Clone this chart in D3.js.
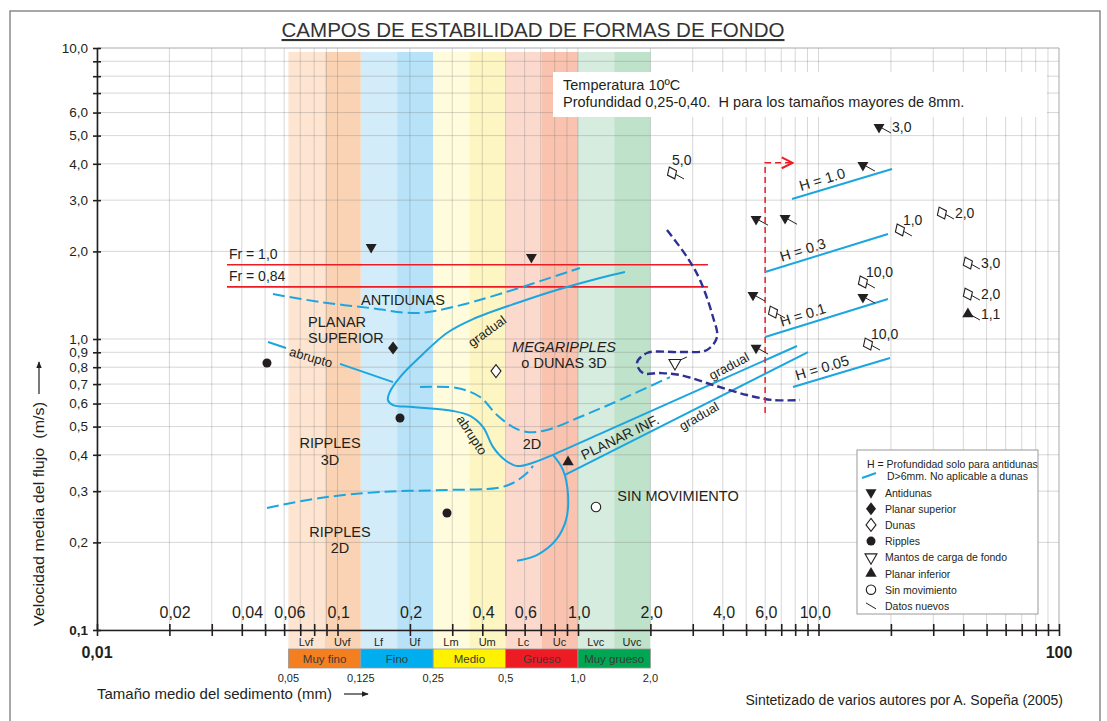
<!DOCTYPE html>
<html>
<head>
<meta charset="utf-8">
<script src="https://cdnjs.cloudflare.com/ajax/libs/d3/7.8.5/d3.min.js"></script>
<style>
  body { margin: 0; background: #fff; }
  text { font-family: Arial, "Liberation Sans", sans-serif; fill: #231f20; white-space: pre; }
</style>
</head>
<body>
<svg id="chart" width="1107" height="721"></svg>
<script>
// ---- data ----
var xTickValues = [0.02, 0.04, 0.06, 0.1, 0.2, 0.4, 0.6, 1, 2, 4, 6, 10]
var xTickLabels = ['0,02', '0,04', '0,06', '0,1', '0,2', '0,4', '0,6', '1,0', '2,0', '4,0', '6,0', '10,0']
var yTickValues = [0.1, 0.2, 0.3, 0.4, 0.5, 0.6, 0.7, 0.8, 0.9, 1, 2, 3, 4, 5, 6, 10]
var yTickLabels = ['0,1', '0,2', '0,3', '0,4', '0,5', '0,6', '0,7', '0,8', '0,9', '1,0', '2,0', '3,0', '4,0', '5,0', '6,0', '10,0']

var sizeClasses = ['Muy fino', 'Fino', 'Medio', 'Grueso', 'Muy grueso']
var classBounds = [0.0625, 0.125, 0.25, 0.5, 1, 2]
var classBoundLabels = ['0,05', '0,125', '0,25', '0,5', '1,0', '2,0']
var classColors = ['#f47f20', '#00aeef', '#fff200', '#ed1c24', '#00a651']
var subClasses = ['Lvf', 'Uvf', 'Lf', 'Uf', 'Lm', 'Um', 'Lc', 'Uc', 'Lvc', 'Uvc']
var subBounds = [0.0625, 0.0884, 0.125, 0.177, 0.25, 0.354, 0.5, 0.707, 1, 1.414, 2]
var subColors = ['#fde5d2', '#fad3b5', '#d3ecf9', '#b7e2f7', '#fffbdd', '#fdf5c2', '#fcd9cd', '#f9c3b0', '#d6ecdf', '#bfe2cb']

var froude = [{ label: 'Fr = 1,0', v: 1.8 }, { label: 'Fr = 0,84', v: 1.51 }]
var froudeRange = [0.0347, 3.47]

// solid blue boundaries [size mm, velocity m/s]
var gradualAbrupto = [[1.568, 1.699], [1.234, 1.621], [0.842, 1.485], [0.574, 1.34], [0.366, 1.171], [0.285, 1.049], [0.220, 0.867], [0.182, 0.740], [0.165, 0.658], [0.162, 0.617], [0.170, 0.593], [0.206, 0.584], [0.302, 0.566], [0.356, 0.544], [0.403, 0.498], [0.443, 0.426], [0.497, 0.384], [0.558, 0.366], [0.644, 0.375], [0.787, 0.400], [1.234, 0.472], [8.14, 0.946]]
var planarInfLower = [[0.883, 0.341], [9.04, 0.902]]
var sinMovLimit = [[0.787, 0.400], [0.866, 0.355], [0.909, 0.291], [0.892, 0.239], [0.810, 0.204], [0.675, 0.181], [0.558, 0.173]]
var abruptoLeftA = [[0.0514, 0.977], [0.0611, 0.931]]
var abruptoLeftB = [[0.1024, 0.821], [0.1702, 0.711]]

// dashed blue boundaries
var antidunasLimit = [[0.0539, 1.427], [0.0846, 1.34], [0.1365, 1.278], [0.2141, 1.228], [0.302, 1.288], [0.4876, 1.439], [1.019, 1.754]]
var megaripplesLimit = [[0.2203, 0.684], [0.314, 0.679], [0.3914, 0.632], [0.4604, 0.548], [0.5367, 0.498], [0.6136, 0.479], [0.743, 0.487], [1.019, 0.5395], [1.398, 0.6026], [2.413, 0.740]]
var ripplesLimit = [[0.0509, 0.2626], [0.0846, 0.2842], [0.1502, 0.298], [0.2853, 0.3028], [0.4604, 0.3076], [0.5367, 0.32], [0.6136, 0.3464], [0.65, 0.3662]]

// purple dashed boundary (coarse sediments)
var coarseLimit = [[2.344, 2.369], [2.84, 1.913], [3.216, 1.595], [3.641, 1.19], [3.784, 1.016], [3.439, 0.917], [2.655, 0.902], [1.936, 0.895], [1.759, 0.827], [1.863, 0.764], [2.193, 0.764], [2.655, 0.752], [3.641, 0.695], [5.043, 0.642], [6.47, 0.617], [8.38, 0.617]]

// depth lines for antidunes
var hLines = [
  { label: 'H = 1.0', a: [7.76, 3.028], b: [20.21, 3.838] },
  { label: 'H = 0.3', a: [6.0, 1.699], b: [19.45, 2.295] },
  { label: 'H = 0.1', a: [6.0, 1.016], b: [19.45, 1.372] },
  { label: 'H = 0.05', a: [7.83, 0.684], b: [19.83, 0.860] }
]
var redDashed = [[6.0, 0.557], [6.0, 4.03], [7.8, 4.03]]

// observations: type, size, velocity, new data, label, label place
var points = [
  { t: 'antidunas', d: 0.138, v: 2.07, nuevo: false, label: '' },
  { t: 'antidunas', d: 0.64, v: 1.91, nuevo: false, label: '' },
  { t: 'antidunas', d: 5.5, v: 2.58, nuevo: true, label: '' },
  { t: 'antidunas', d: 7.26, v: 2.6, nuevo: true, label: '' },
  { t: 'antidunas', d: 5.34, v: 1.416, nuevo: true, label: '' },
  { t: 'antidunas', d: 5.5, v: 0.931, nuevo: true, label: '' },
  { t: 'antidunas', d: 15.3, v: 1.393, nuevo: true, label: '' },
  { t: 'antidunas', d: 15.3, v: 3.96, nuevo: true, label: '' },
  { t: 'antidunas', d: 17.85, v: 5.35, nuevo: true, label: '3,0', pos: 'e' },
  { t: 'planarSup', d: 0.1702, v: 0.931, nuevo: false, label: '' },
  { t: 'dunas', d: 0.456, v: 0.776, nuevo: false, label: '' },
  { t: 'dunas', d: 2.46, v: 3.72, nuevo: true, label: '5,0', pos: 'n' },
  { t: 'dunas', d: 6.47, v: 1.238, nuevo: true, label: '' },
  { t: 'dunas', d: 21.8, v: 2.37, nuevo: true, label: '1,0', pos: 'ne' },
  { t: 'dunas', d: 32.6, v: 2.71, nuevo: true, label: '2,0', pos: 'e' },
  { t: 'dunas', d: 15.3, v: 1.57, nuevo: true, label: '10,0', pos: 'ne' },
  { t: 'dunas', d: 16.06, v: 0.961, nuevo: true, label: '10,0', pos: 'ne' },
  { t: 'dunas', d: 41.8, v: 1.824, nuevo: true, label: '3,0', pos: 'e' },
  { t: 'dunas', d: 41.8, v: 1.427, nuevo: true, label: '2,0', pos: 'e' },
  { t: 'ripples', d: 0.0509, v: 0.827, nuevo: false, label: '' },
  { t: 'ripples', d: 0.1819, v: 0.535, nuevo: false, label: '' },
  { t: 'ripples', d: 0.2853, v: 0.2524, nuevo: false, label: '' },
  { t: 'mantos', d: 2.53, v: 0.827, nuevo: true, label: '', up: true },
  { t: 'planarInf', d: 0.909, v: 0.378, nuevo: false, label: '' },
  { t: 'planarInf', d: 41.8, v: 1.219, nuevo: true, label: '1,1', pos: 'e' },
  { t: 'sinMov', d: 1.188, v: 0.2647, nuevo: false, label: '' }
]

var regionLabels = [
  { text: 'ANTIDUNAS', d: 0.1872, v: 1.361 },
  { text: 'PLANAR', d: 0.0754, v: 1.144, anchor: 'start' },
  { text: 'SUPERIOR', d: 0.0754, v: 1.008, anchor: 'start' },
  { text: 'MEGARIPPLES', d: 0.875, v: 0.939, italic: true },
  { text: 'o DUNAS 3D', d: 0.875, v: 0.827 },
  { text: 'RIPPLES', d: 0.0931, v: 0.439 },
  { text: '3D', d: 0.0931, v: 0.384 },
  { text: 'RIPPLES', d: 0.1024, v: 0.2172 },
  { text: '2D', d: 0.1024, v: 0.1913 },
  { text: '2D', d: 0.6438, v: 0.4357 },
  { text: 'SIN MOVIMIENTO', d: 2.605, v: 0.2887 }
]
var curveLabels = [
  { text: 'gradual', d: 0.4184, v: 1.065, angle: -36 },
  { text: 'abrupto', d: 0.0776, v: 0.867, angle: 16 },
  { text: 'abrupto', d: 0.3625, v: 0.468, angle: 57 },
  { text: 'gradual', d: 4.246, v: 0.808, angle: -28 },
  { text: 'gradual', d: 3.185, v: 0.5435, angle: -30 },
  { text: 'PLANAR INF.', d: 1.495, v: 0.4604, angle: -26, size: 14 }
]

var legendKeys = ['antidunas', 'planarSup', 'dunas', 'ripples', 'mantos', 'planarInf', 'sinMov', 'nuevo']
var legendLabels = ['Antidunas', 'Planar superior', 'Dunas', 'Ripples', 'Mantos de carga de fondo', 'Planar inferior', 'Sin movimiento', 'Datos nuevos']

// ---- layout ----
var blue = '#1ba6e0', purple = '#2e3192', red = '#ed1c24', ink = '#231f20'

var svg = d3.select('#chart')
var xScale = d3.scaleLog().domain([0.01, 100]).range([97, 1059])
var yScale = d3.scaleLog().domain([0.1, 10]).range([630, 48])

var line = d3.line().x(d => xScale(d[0])).y(d => yScale(d[1]))
var smooth = d3.line().x(d => xScale(d[0])).y(d => yScale(d[1])).curve(d3.curveCatmullRom.alpha(0.5))

// outer frame
svg.append('rect').attr('x', 10).attr('y', 11).attr('width', 1090).attr('height', 730)
  .attr('fill', 'none').attr('stroke', '#8a8a8a').attr('stroke-width', 1.5)

// title
svg.append('text').attr('x', 533).attr('y', 37).attr('text-anchor', 'middle')
  .attr('font-size', 21).attr('textLength', 503).attr('lengthAdjust', 'spacingAndGlyphs')
  .style('fill', '#333').style('text-decoration', 'underline')
  .text('CAMPOS DE ESTABILIDAD DE FORMAS DE FONDO')

// sediment bands
svg.append('g').selectAll('rect').data(subClasses).join('rect')
  .attr('x', (d, i) => xScale(subBounds[i]))
  .attr('width', (d, i) => xScale(subBounds[i + 1]) - xScale(subBounds[i]))
  .attr('y', 52).attr('height', 649 - 52)
  .attr('fill', (d, i) => subColors[i])

// grid
var grid = svg.append('g')
grid.selectAll('.vg').data(xScale.ticks()).join('line')
  .attr('x1', d => xScale(d)).attr('x2', d => xScale(d))
  .attr('y1', 48).attr('y2', 630)
  .attr('stroke', d => d === 100 ? '#a9a9a9' : 'rgba(110,110,110,0.28)').attr('stroke-width', 1)
grid.selectAll('.hg').data(yScale.ticks()).join('line')
  .attr('x1', 97).attr('x2', 1059)
  .attr('y1', d => yScale(d)).attr('y2', d => yScale(d))
  .attr('stroke', d => d === 10 ? '#a9a9a9' : 'rgba(110,110,110,0.28)').attr('stroke-width', 1)

// info box
svg.append('rect').attr('x', 553).attr('y', 72).attr('width', 494).attr('height', 45).attr('fill', '#fff')
svg.append('text').attr('x', 563).attr('y', 90).attr('font-size', 14.5).text('Temperatura 10ºC')
svg.append('text').attr('x', 563).attr('y', 107).attr('font-size', 14.5)
  .text('Profundidad 0,25-0,40.  H para los tamaños mayores de 8mm.')

// Froude lines
var fr = svg.append('g')
froude.forEach(f => {
  fr.append('path').attr('d', line([[froudeRange[0], f.v], [froudeRange[1], f.v]]))
    .attr('stroke', red).attr('stroke-width', 1.6).attr('fill', 'none')
  fr.append('text').attr('x', xScale(froudeRange[0]) + 2).attr('y', yScale(f.v) - 6)
    .attr('font-size', 14).text(f.label)
})

// boundaries
var bounds = svg.append('g').attr('fill', 'none')
;[gradualAbrupto, sinMovLimit].forEach(c => {
  bounds.append('path').attr('d', smooth(c)).attr('stroke', blue).attr('stroke-width', 2)
})
;[planarInfLower, abruptoLeftA, abruptoLeftB].forEach(c => {
  bounds.append('path').attr('d', line(c)).attr('stroke', blue).attr('stroke-width', 2)
})
;[antidunasLimit, megaripplesLimit, ripplesLimit].forEach(c => {
  bounds.append('path').attr('d', smooth(c)).attr('stroke', blue).attr('stroke-width', 2)
    .attr('stroke-dasharray', '12,5')
})
bounds.append('path').attr('d', smooth(coarseLimit)).attr('stroke', purple).attr('stroke-width', 2.4)
  .attr('stroke-dasharray', '8,4')

// red dashed limit with arrow
svg.append('defs').append('marker').attr('id', 'arr').attr('viewBox', '0 0 10 10')
  .attr('refX', 9).attr('refY', 5).attr('markerWidth', 9).attr('markerHeight', 9).attr('orient', 'auto')
  .append('path').attr('d', 'M1,1 L9,5 L1,9').attr('fill', 'none').attr('stroke', red).attr('stroke-width', 1.5)
bounds.append('path').attr('d', line(redDashed)).attr('stroke', red).attr('stroke-width', 1.5)
  .attr('stroke-dasharray', '6,4').attr('marker-end', 'url(#arr)')

// H lines
hLines.forEach(h => {
  var x1 = xScale(h.a[0]), y1 = yScale(h.a[1]), x2 = xScale(h.b[0]), y2 = yScale(h.b[1])
  bounds.append('path').attr('d', line([h.a, h.b])).attr('stroke', blue).attr('stroke-width', 2)
  var ang = Math.atan2(y2 - y1, x2 - x1) * 180 / Math.PI
  var t = 0.33, lx = x1 + (x2 - x1) * t, ly = y1 + (y2 - y1) * t
  svg.append('text').attr('transform', 'translate(' + [lx, ly] + ') rotate(' + ang + ')')
    .attr('y', -5).attr('text-anchor', 'middle').attr('font-size', 14.5).text(h.label)
})

// labels
regionLabels.forEach(r => {
  svg.append('text').attr('x', xScale(r.d)).attr('y', yScale(r.v)).attr('dy', '0.36em')
    .attr('text-anchor', r.anchor || 'middle').attr('font-size', 14.5)
    .style('font-style', r.italic ? 'italic' : 'normal').text(r.text)
})
curveLabels.forEach(c => {
  svg.append('text').attr('transform', 'translate(' + [xScale(c.d), yScale(c.v)] + ') rotate(' + c.angle + ')')
    .attr('dy', '0.36em').attr('text-anchor', 'middle').attr('font-size', c.size || 13).text(c.text)
})

// markers
var diamond = 'M0,-6.5L5,0L0,6.5L-5,0Z'
function drawMarker(g, type, px, py, tilt) {
  var s = d3.symbol()
  var at = 'translate(' + [px, py] + ')'
  if (type === 'antidunas') g.append('path').attr('d', s.type(d3.symbolTriangle).size(52)())
    .attr('transform', at + ' rotate(180)').attr('fill', ink)
  if (type === 'mantos') g.append('path').attr('d', s.type(d3.symbolTriangle).size(62)())
    .attr('transform', at + ' rotate(180)').attr('fill', '#fff').attr('stroke', ink).attr('stroke-width', 1.1)
  if (type === 'planarInf') g.append('path').attr('d', s.type(d3.symbolTriangle).size(56)())
    .attr('transform', at).attr('fill', ink)
  if (type === 'planarSup') g.append('path').attr('d', diamond)
    .attr('transform', at).attr('fill', ink)
  if (type === 'dunas') g.append('path').attr('d', diamond)
    .attr('transform', at + (tilt ? ' rotate(-25)' : '')).attr('fill', '#fff').attr('stroke', ink).attr('stroke-width', 1.1)
  if (type === 'ripples') g.append('path').attr('d', s.type(d3.symbolCircle).size(64)())
    .attr('transform', at).attr('fill', ink)
  if (type === 'sinMov') g.append('path').attr('d', s.type(d3.symbolCircle).size(70)())
    .attr('transform', at).attr('fill', '#fff').attr('stroke', ink).attr('stroke-width', 1.1)
  if (type === 'nuevo') g.append('line').attr('x1', px - 5).attr('y1', py - 3).attr('x2', px + 5).attr('y2', py + 3)
    .attr('stroke', ink).attr('stroke-width', 1)
}

var marks = svg.append('g')
points.forEach(p => {
  var px = xScale(p.d), py = yScale(p.v)
  if (p.nuevo) {
    var ty = p.up ? -6 : 6
    marks.append('line').attr('x1', px + 3).attr('y1', py + (p.up ? -2 : 1)).attr('x2', px + 12).attr('y2', py + ty)
      .attr('stroke', ink).attr('stroke-width', 1)
  }
  drawMarker(marks, p.t, px, py, p.nuevo)
  if (p.label) {
    var lx = px, ly = py
    if (p.pos === 'e') { lx = px + 13; ly = py + 5 }
    if (p.pos === 'ne') { lx = px + 3; ly = py - 5 }
    if (p.pos === 'n') { lx = px; ly = py - 8 }
    marks.append('text').attr('x', lx).attr('y', ly).attr('font-size', 14).text(p.label)
  }
})

// axes
var yAxis = d3.axisLeft(yScale).tickValues(yScale.ticks()).tickSize(4).tickSizeOuter(0).tickFormat('')
var gy = svg.append('g').attr('transform', 'translate(97,0)').call(yAxis)
gy.selectAll('.tick line').attr('x1', 4)
var xAxis = d3.axisBottom(xScale).tickValues(xScale.ticks()).tickSize(6).tickSizeOuter(0).tickFormat('')
var gx = svg.append('g').attr('transform', 'translate(0,630)').call(xAxis)
gx.selectAll('.tick line').attr('y1', -6)
;[gx, gy].forEach(g => {
  g.select('.domain').attr('stroke', ink).attr('stroke-width', 1.6)
  g.selectAll('.tick line').attr('stroke', ink).attr('stroke-width', 1.6)
})

yTickValues.forEach((v, i) => {
  svg.append('text').attr('x', 88).attr('y', yScale(v)).attr('dy', '0.35em').attr('text-anchor', 'end')
    .attr('font-size', 13.5).attr('font-weight', v === 0.1 ? 'bold' : 'normal').text(yTickLabels[i])
})
xTickValues.forEach((v, i) => {
  var parts = xTickLabels[i].split(',')
  svg.append('text').attr('x', xScale(v) - 1).attr('y', 618).attr('text-anchor', 'end').attr('font-size', 16).text(parts[0])
  svg.append('text').attr('x', xScale(v) - 1).attr('y', 618).attr('text-anchor', 'start').attr('font-size', 16).text(',' + parts[1])
})
svg.append('text').attr('x', xScale(0.01)).attr('y', 658).attr('text-anchor', 'middle').attr('font-size', 16).attr('font-weight', 'bold').text('0,01')
svg.append('text').attr('x', xScale(100)).attr('y', 658).attr('text-anchor', 'middle').attr('font-size', 16).attr('font-weight', 'bold').text('100')

// sediment class bar
var bar = svg.append('g')
bar.selectAll('.sub').data(subClasses).join('text')
  .attr('x', (d, i) => Math.sqrt(xScale(subBounds[i]) * xScale(subBounds[i + 1])))
  .attr('y', 646).attr('text-anchor', 'middle').attr('font-size', 11).text(d => d)
bar.selectAll('rect').data(sizeClasses).join('rect')
  .attr('x', (d, i) => xScale(classBounds[i]))
  .attr('width', (d, i) => xScale(classBounds[i + 1]) - xScale(classBounds[i]))
  .attr('y', 649).attr('height', 19).attr('fill', (d, i) => classColors[i])
  .attr('stroke', '#9a9a9a').attr('stroke-width', 0.8)
bar.selectAll('.cls').data(sizeClasses).join('text')
  .attr('x', (d, i) => (xScale(classBounds[i]) + xScale(classBounds[i + 1])) / 2)
  .attr('y', 663).attr('text-anchor', 'middle').attr('font-size', 11.5).style('fill', '#3a3a3a').text(d => d)
bar.selectAll('.bl').data(classBoundLabels).join('text')
  .attr('x', (d, i) => xScale(classBounds[i])).attr('y', 682)
  .attr('text-anchor', 'middle').attr('font-size', 11).text(d => d)

// axis titles
svg.append('text').attr('x', 97).attr('y', 699).attr('font-size', 15).text('Tamaño medio del sedimento (mm)')
svg.append('defs').append('marker').attr('id', 'ah').attr('viewBox', '0 0 10 10')
  .attr('refX', 9).attr('refY', 5).attr('markerWidth', 6).attr('markerHeight', 6).attr('orient', 'auto')
  .append('path').attr('d', 'M0,1 L10,5 L0,9 Z').attr('fill', ink)
svg.append('line').attr('x1', 344).attr('y1', 694).attr('x2', 368).attr('y2', 694)
  .attr('stroke', ink).attr('stroke-width', 1.2).attr('marker-end', 'url(#ah)')
svg.append('text').attr('transform', 'translate(44,514) rotate(-90)').attr('text-anchor', 'middle')
  .attr('font-size', 15).attr('textLength', 224).attr('lengthAdjust', 'spacingAndGlyphs')
  .text('Velocidad media del flujo  (m/s)')
svg.append('line').attr('x1', 39).attr('y1', 394).attr('x2', 39).attr('y2', 362)
  .attr('stroke', ink).attr('stroke-width', 1.2).attr('marker-end', 'url(#ah)')
svg.append('text').attr('x', 1063).attr('y', 705).attr('text-anchor', 'end').attr('font-size', 14)
  .text('Sintetizado de varios autores por A. Sopeña (2005)')

// legend
var lg = svg.append('g')
lg.append('rect').attr('x', 857).attr('y', 450).attr('width', 181).attr('height', 164)
  .attr('fill', '#fff').attr('stroke', '#9a9a9a').attr('stroke-width', 1)
lg.append('text').attr('x', 867).attr('y', 468).attr('font-size', 10.5).text('H = Profundidad solo para antidunas')
lg.append('line').attr('x1', 862).attr('y1', 478).attr('x2', 876).attr('y2', 473).attr('stroke', blue).attr('stroke-width', 2)
lg.append('text').attr('x', 887).attr('y', 480).attr('font-size', 10.5).text('D>6mm. No aplicable a dunas')
legendKeys.forEach((k, i) => {
  var cy = 492.5 + i * 16.2
  drawMarker(lg, k, 871, cy, false)
  lg.append('text').attr('x', 885).attr('y', cy + 4).attr('font-size', 10.5).text(legendLabels[i])
})
</script>
</body>
</html>
